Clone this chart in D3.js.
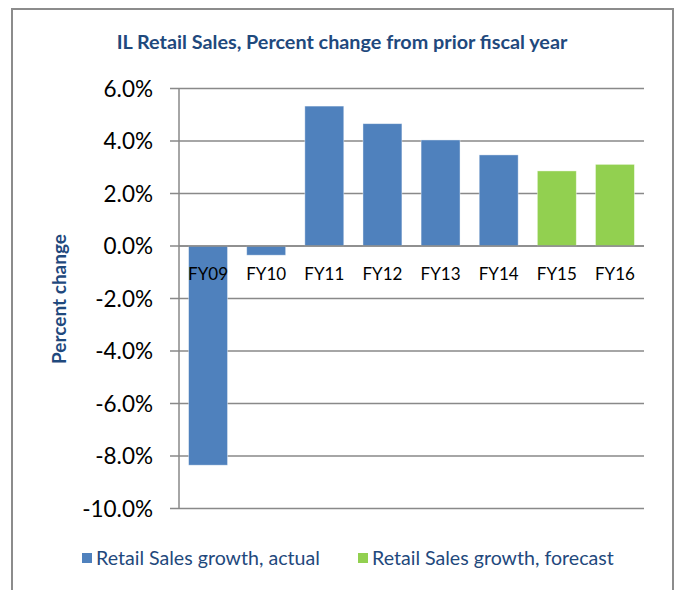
<!DOCTYPE html>
<html>
<head>
<meta charset="utf-8">
<script src="https://cdn.jsdelivr.net/npm/d3@7"></script>
<style>
  body { margin: 0; background: #fff; }
  text { font-family: Lato, "Open Sans", sans-serif; }
</style>
</head>
<body>
<div id="chart"></div>
<script>
// chart data
let years = ["FY09", "FY10", "FY11", "FY12", "FY13", "FY14", "FY15", "FY16"];
let growth = [-8.35, -0.35, 5.33, 4.66, 4.04, 3.47, 2.86, 3.11];
let kinds = ["actual", "actual", "actual", "actual", "actual", "actual", "forecast", "forecast"];
let yTicks = [6, 4, 2, 0, -2, -4, -6, -8, -10];
let legendLabels = ["Retail Sales growth, actual", "Retail Sales growth, forecast"];

let width = 676, height = 590;
let colors = { actual: "#4F81BD", forecast: "#92D050" };

let svg = d3.select("#chart")
    .append("svg")
    .attr("width", width)
    .attr("height", height);

// outer frame (bottom runs off the picture)
svg.append("path")
    .attr("d", "M12,600 L12,9 L673,9 L673,600")
    .attr("fill", "none")
    .attr("stroke", "#8c8c8c")
    .attr("stroke-width", 2);

// title
svg.append("text")
    .attr("x", 342)
    .attr("y", 49)
    .attr("text-anchor", "middle")
    .attr("font-size", "19.8px")
    .attr("font-weight", "bold")
    .attr("fill", "#1F497D")
    .text("IL Retail Sales, Percent change from prior fiscal year");

let left = 179, right = 644;

let x = d3.scaleBand()
    .domain(years)
    .range([left, right])
    .paddingInner(0.33)
    .paddingOuter(0.165);

let y = d3.scaleLinear()
    .domain([-10, 6])
    .range([508.5, 88.5]);

// gridlines
svg.append("g")
    .selectAll("line")
    .data(yTicks)
    .join("line")
    .attr("x1", left - 9)
    .attr("x2", right)
    .attr("y1", d => y(d))
    .attr("y2", d => y(d))
    .attr("stroke", "#898989")
    .attr("stroke-width", 1.5);

// bars
svg.append("g")
    .selectAll("rect")
    .data(years)
    .join("rect")
    .attr("x", d => x(d))
    .attr("width", x.bandwidth())
    .attr("y", (d, i) => y(Math.max(0, growth[i])))
    .attr("height", (d, i) => Math.abs(y(growth[i]) - y(0)))
    .attr("fill", (d, i) => colors[kinds[i]])
    .attr("stroke", "#ffffff")
    .attr("stroke-opacity", 0.5)
    .attr("stroke-width", 0.8);

// zero line redrawn over bars
svg.append("line")
    .attr("x1", left)
    .attr("x2", right)
    .attr("y1", y(0))
    .attr("y2", y(0))
    .attr("stroke", "#898989")
    .attr("stroke-width", 1.5);

// y axis line
svg.append("line")
    .attr("x1", left)
    .attr("x2", left)
    .attr("y1", y(6))
    .attr("y2", y(-10))
    .attr("stroke", "#898989")
    .attr("stroke-width", 1.5);

// y tick labels (plain hyphen for negatives, like the original)
svg.append("g")
    .selectAll("text")
    .data(yTicks)
    .join("text")
    .attr("x", 153)
    .attr("y", d => y(d) + 8)
    .attr("text-anchor", "end")
    .attr("font-size", "22.5px")
    .attr("fill", "#000")
    .text(d => d.toFixed(1) + "%");

// category labels, sitting just below the zero line
svg.append("g")
    .selectAll("text")
    .data(years)
    .join("text")
    .attr("x", d => x(d) + x.bandwidth() / 2)
    .attr("y", y(0) + 34)
    .attr("text-anchor", "middle")
    .attr("font-size", "17px")
    .attr("fill", "#000")
    .text(d => d);

// axis title
svg.append("text")
    .attr("transform", "translate(66,299) rotate(-90)")
    .attr("text-anchor", "middle")
    .attr("font-size", "19px")
    .attr("font-weight", "bold")
    .attr("fill", "#1F497D")
    .text("Percent change");

// legend
let legendX = [82, 358];
let legend = svg.append("g")
    .selectAll("g")
    .data(legendLabels)
    .join("g")
    .attr("transform", (d, i) => `translate(${legendX[i]},553)`);

legend.append("rect")
    .attr("width", 10)
    .attr("height", 10)
    .attr("fill", (d, i) => colors[i === 0 ? "actual" : "forecast"]);

legend.append("text")
    .attr("x", 14)
    .attr("y", 12)
    .attr("font-size", "19.6px")
    .attr("fill", "#1F497D")
    .text(d => d);
</script>
</body>
</html>
